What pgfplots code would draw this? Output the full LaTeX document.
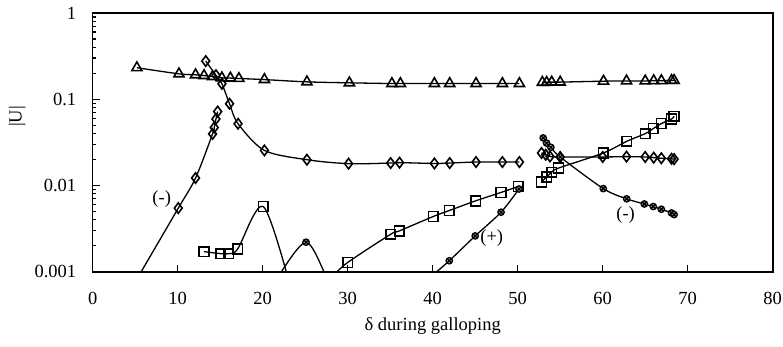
\documentclass[border=0pt]{standalone}
\usepackage{fontspec}
\setmainfont{Liberation Serif}
\usepackage{pgfplots}
\pgfplotsset{compat=1.18}
\usetikzlibrary{plotmarks}
\begin{document}
\begin{tikzpicture}[font=\fontsize{18.5}{22}\selectfont]
\begin{axis}[
  at={(0pt,0pt)}, anchor=south west,
  scale only axis, width=680pt, height=258.7pt,
  xmin=0, xmax=80, ymode=log, ymin=0.001, ymax=1,
  xtick={0,10,...,80},
  ytick={0.001,0.01,0.1,1}, yticklabels={0.001,0.01,0.1,1},
  tick pos=left, tick align=inside, major tick length=7pt,
  axis line style={line width=1.6pt},
  every tick/.style={black, line width=1.3pt},
  /pgf/number format/assume math mode=true,
  xticklabel style={yshift=-17pt},
  yticklabel style={xshift=-13pt},
  xlabel={δ during galloping}, ylabel={|U|},
  xlabel style={at={(axis description cs:0.5,-0.229)}, anchor=base},
  ylabel style={at={(axis description cs:-0.111,0.6)}, anchor=center},
  clip=true,
  ln/.style={black, line width=1.3pt, smooth},
  om/.style={only marks, black},
  tri/.style={mark=triangle, mark size=5.8pt, mark options={fill=white, line width=1.6pt, solid}},
  dia/.style={mark=diamond, mark size=5.2pt, mark options={fill=white, line width=1.6pt, solid}},
  sqr/.style={mark=square, mark size=4.9pt, mark options={fill=white, line width=1.6pt, solid}},
  cir/.style={mark=otimes*, mark size=3.2pt, mark options={fill=gray!55, line width=1.3pt, solid}},
]
% triangles
\addplot[ln, tri] coordinates {(5.2,0.232)(10.15,0.197)(12.1,0.192)(13.1,0.188)(14.1,0.183)(15.2,0.177)(16.2,0.176)(17.2,0.174)(20.2,0.169)(25.2,0.159)(30.2,0.155)(35.2,0.152)(36.2,0.152)(40.2,0.152)(42,0.152)(45.1,0.152)(48.2,0.152)(50.2,0.152)};
\addplot[ln, tri] coordinates {(52.9,0.157)(53.4,0.157)(54,0.158)(55,0.158)(60.1,0.162)(62.8,0.163)(65,0.163)(66,0.164)(66.9,0.164)(68.1,0.165)(68.4,0.165)};
% diamonds
\addplot[ln, mark=none] coordinates {(5.0,0.00076)(10.07,0.00546)(12.1,0.0122)(14.1,0.0396)(14.3,0.047)(14.5,0.059)(14.7,0.072)};
\addplot[om, dia] coordinates {(10.07,0.00546)(12.1,0.0122)(14.1,0.0396)(14.3,0.047)(14.5,0.059)(14.7,0.072)};
\addplot[ln, dia] coordinates {(13.3,0.277)(14.5,0.19)(15.2,0.151)(16.1,0.0887)(17.1,0.052)(20.2,0.0255)(25.2,0.0199)(30.1,0.0179)(35.05,0.0182)(36.1,0.0184)(40.2,0.018)(42,0.0182)(45.1,0.0187)(48.2,0.0187)(50.2,0.0187)};
\addplot[ln, dia] coordinates {(52.8,0.0238)(53.3,0.0227)(53.8,0.0217)(55,0.0214)(60,0.0214)(62.8,0.0216)(65,0.0214)(66,0.021)(66.9,0.0207)(68.1,0.0204)(68.4,0.0202)};
% squares
\addplot[ln, mark=none] coordinates {(13.1,0.00171)(15.06,0.00162)(16.0,0.00162)(17.06,0.00184)(20.07,0.0057)(23.2,0.0007)};
\addplot[om, sqr] coordinates {(13.1,0.00171)(15.06,0.00162)(16.0,0.00162)(17.06,0.00184)(20.07,0.0057)};
\addplot[ln, mark=none] coordinates {(28.2,0.00088)(30,0.00128)(35.06,0.00272)(36.07,0.00297)(40.07,0.00437)(41.95,0.00512)(45.06,0.00664)(48.04,0.0083)(50.07,0.00973)};
\addplot[om, sqr] coordinates {(30,0.00128)(35.06,0.00272)(36.07,0.00297)(40.07,0.00437)(41.95,0.00512)(45.06,0.00664)(48.04,0.0083)(50.07,0.00973)};
\addplot[ln, sqr] coordinates {(52.8,0.011)(53.4,0.0125)(54,0.0142)(54.8,0.0159)(60.07,0.0238)(62.82,0.0325)(65,0.0399)(65.95,0.0457)(66.9,0.0522)(68.1,0.059)(68.4,0.0634)};
% circles
\addplot[ln, mark=none] coordinates {(21.5,0.00065)(22.2,0.001)(25.1,0.0022)(27.2,0.001)(27.8,0.0006)};
\addplot[om, cir] coordinates {(25.1,0.0022)};
\addplot[ln, mark=none] coordinates {(39.7,0.00086)(41.95,0.00134)(45,0.0026)(48.04,0.0049)(50.15,0.0091)};
\addplot[om, cir] coordinates {(41.95,0.00134)(45,0.0026)(48.04,0.0049)(50.15,0.0091)};
\addplot[ln, cir] coordinates {(53.0,0.0356)(53.4,0.031)(53.9,0.0277)(55,0.0214)(60.07,0.0092)(62.82,0.007)(64.9,0.0061)(65.95,0.0057)(66.9,0.0053)(68.1,0.0048)(68.4,0.0046)};
% labels
\node at (axis cs:8.12,0.00695) {(-)};
\node at (axis cs:46.95,0.00244) {(+)};
\node at (axis cs:62.7,0.00456) {(-)};
\end{axis}
\pgfresetboundingbox
\path (-92.7pt,-74.3pt) rectangle (690.3pt,271.7pt);
\end{tikzpicture}
\end{document}
